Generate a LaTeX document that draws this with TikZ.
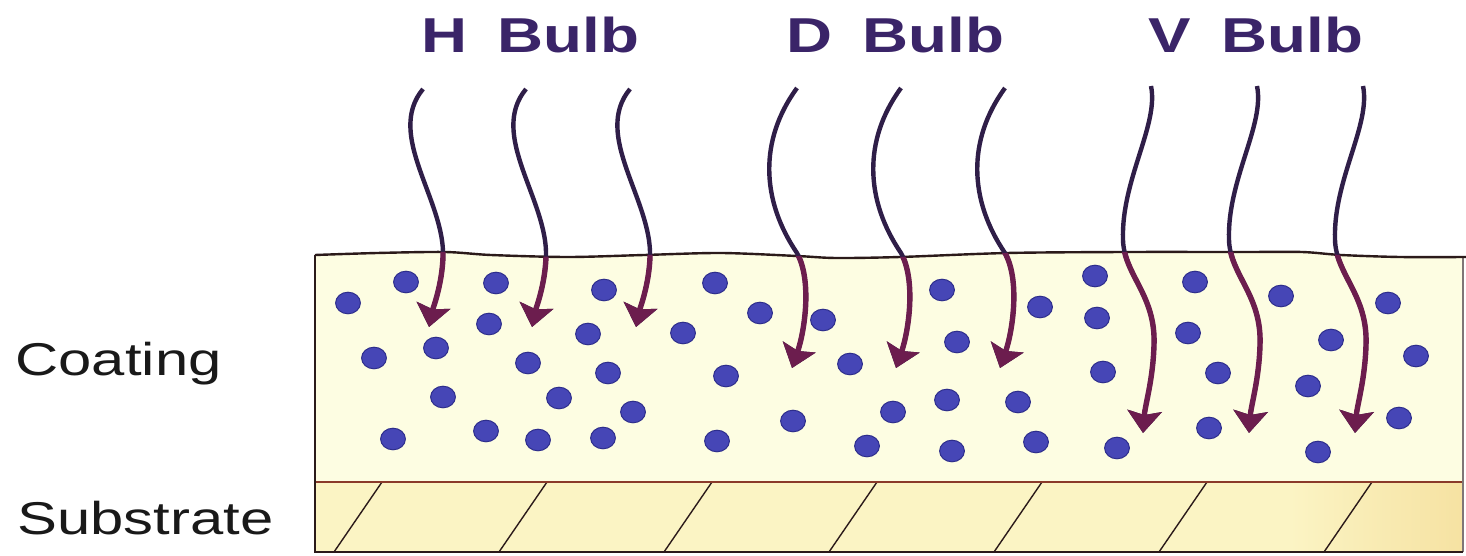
\documentclass[tikz,border=0pt]{standalone}
\usepackage{fontspec}
\setmainfont{Liberation Sans}
\usetikzlibrary{arrows.meta}
\definecolor{coatfill}{HTML}{FDFDE2}
\definecolor{subfill}{HTML}{FBF4C4}
\definecolor{subedge}{HTML}{F6E2A2}
\definecolor{bulbtext}{HTML}{3A2468}
\definecolor{raydark}{HTML}{2F1E48}
\definecolor{raycoat}{HTML}{6C1D4E}
\definecolor{dotfill}{HTML}{4646B6}
\definecolor{dotedge}{HTML}{2E2E8C}
\definecolor{layerline}{HTML}{2B1A1A}
\definecolor{subline}{HTML}{8A3A2A}

% the nine UV rays, same shape per bulb
\newcommand{\drawrays}[1]{%
  \foreach \x in {423,526,630}
    \draw[#1,shift={(\x,0)}] (0,89) .. controls (-38,135) and (22,200) .. (20,257)
      .. controls (19,285) and (10,308) .. (6,327);
  \foreach \x in {797,901,1005}
    \draw[#1,shift={(\x,0)}] (0,88) .. controls (-38,140) and (-36,200) .. (0,253)
      .. controls (15,280) and (8,330) .. (-5,368);
  \foreach \x in {1151,1257,1363}
    \draw[#1,shift={(\x,0)}] (0,86) .. controls (8,125) and (-30,180) .. (-28,240)
      .. controls (-27,275) and (5,295) .. (3,345)
      .. controls (2,380) and (-6,405) .. (-8,433);
}

\begin{document}
\begin{tikzpicture}[x=0.5pt,y=-0.5pt,
  bulb/.style={font=\bfseries\fontsize{24.5}{26}\selectfont, text=bulbtext, anchor=base, inner sep=0pt, xscale=1.3},
  sidetext/.style={font=\fontsize{23}{25}\selectfont, text=black!90, anchor=base west, inner sep=0pt, xscale=1.3},
  dot/.style={fill=dotfill, draw=dotedge, line width=0.5pt},
  hatch/.style={layerline, line width=0.7pt},
  ray/.style={raydark, line width=2.2pt, -{Stealth[length=11pt,width=17pt,inset=2pt]}},
  coatray/.style={raycoat, line width=2.7pt}]
\useasboundingbox (0,0) rectangle (1466,556);
\fill[white] (0,0) rectangle (1466,556);

% Layers
\fill[coatfill] (315,482) -- plot[smooth] coordinates {(315,255) (377,253) (445,252) (491,255) (568,257) (644,255) (721,253) (797,256) (836,258) (900,257) (1007,253) (1125,252) (1243,252) (1302,252) (1341,255) (1400,257) (1463,257)} -- (1463,482) -- cycle;
\fill[subfill] (315,482) rectangle (1463,552);
\shade[left color=subfill, right color=subedge] (1290,482) rectangle (1463,552);
\foreach \i in {0,...,6}
  \draw[hatch] ({382+165*\i},482) -- ++(-48,70);
\draw[subline, line width=0.8pt] (315,482) -- (1463,482);
\draw[layerline!60, line width=0.6pt] (1463,257) -- (1463,552);
\draw[layerline, line width=1.4pt] (315,255) -- (315,552) -- (1463,552);
\draw[layerline, line width=1.2pt] plot[smooth] coordinates {(315,255) (377,253) (445,252) (491,255) (568,257) (644,255) (721,253) (797,256) (836,258) (900,257) (1007,253) (1125,252) (1243,252) (1302,252) (1341,255) (1400,257) (1466,257)};

% Photoinitiator dots
\foreach \x/\y in {348/303, 406/282, 496/283, 604/290, 489/324, 588/334, 436/348, 374/358,
  528/363, 608/373, 443/397, 559/398, 393/439, 486/431, 538/440, 603/438,
  715/283, 760/313, 823/320, 683/333, 726/376, 850/364, 633/412, 793/421, 893/412, 717/441, 867/446,
  942/290, 1040/307, 957/342, 947/400, 1018/402, 952/451, 1036/442,
  1095/276, 1097/318, 1103/372, 1117/448, 1195/282, 1188/333, 1218/373, 1209/428,
  1281/296, 1331/340, 1308/386, 1318/452, 1388/303, 1416/356, 1399/418}
  \filldraw[dot] (\x,\y) ellipse [x radius=6.2pt, y radius=5.4pt];

% Rays, darker above the coating
\drawrays{ray}
\begin{scope}
  \clip (315,482) -- plot[smooth] coordinates {(315,255) (377,253) (445,252) (491,255) (568,257) (644,255) (721,253) (797,256) (836,258) (900,257) (1007,253) (1125,252) (1243,252) (1302,252) (1341,255) (1400,257) (1463,257)} -- (1463,482) -- cycle;
  \drawrays{ray,coatray}
\end{scope}

% Labels
\node[bulb] (hbulb) at (530,53) {H\hspace{0.2em} Bulb};
\node[bulb] (dbulb) at (895,53) {D\hspace{0.2em} Bulb};
\node[bulb] (vbulb) at (1256,53) {V\hspace{0.2em} Bulb};
\node[sidetext] (coating) at (15,375) {Coating};
\node[sidetext] (substrate) at (17,534) {Substrate};
\end{tikzpicture}
\end{document}
